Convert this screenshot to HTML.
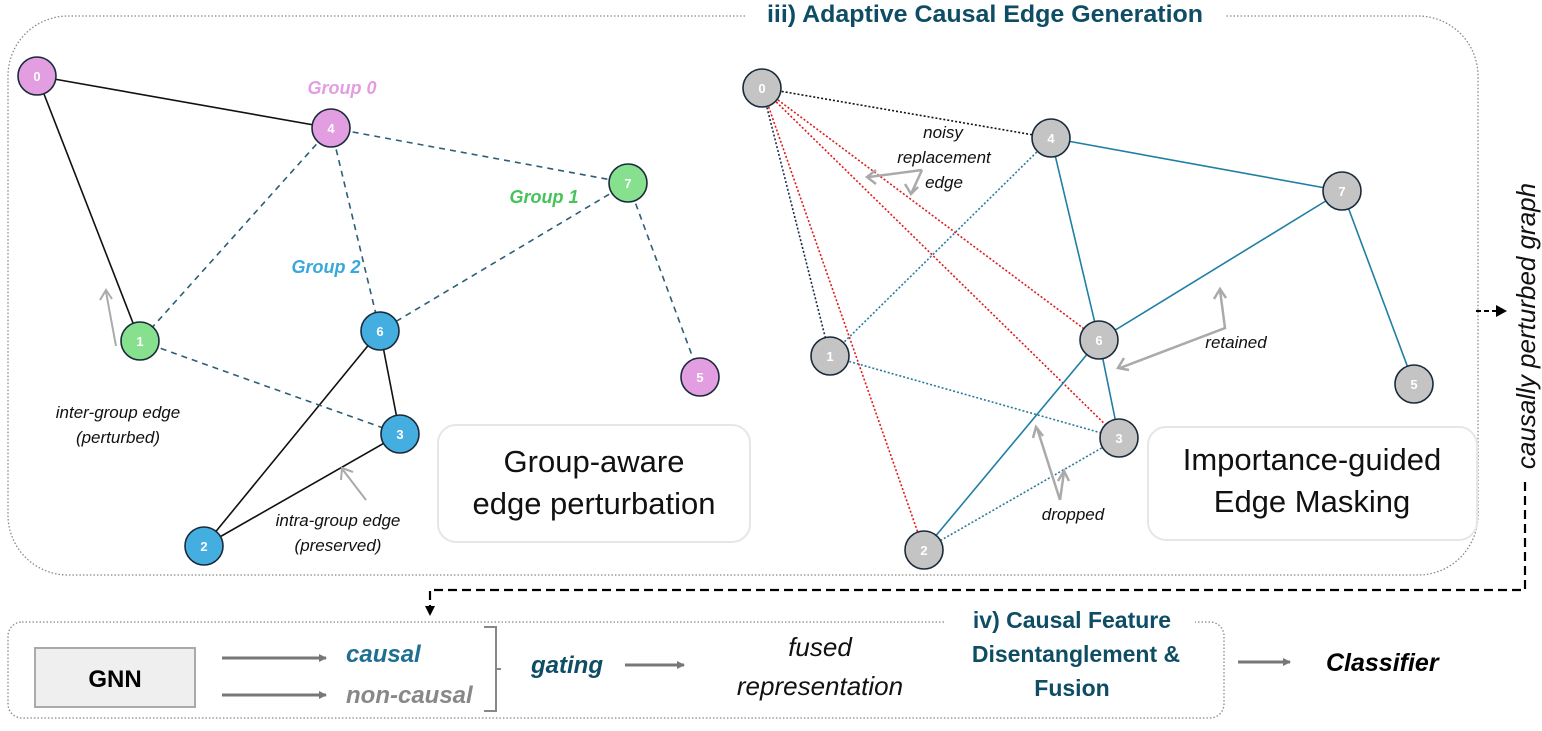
<!DOCTYPE html>
<html><head><meta charset="utf-8"><style>
body{margin:0;width:1542px;height:726px;background:#fff;overflow:hidden;font-family:"Liberation Sans",sans-serif}
</style></head><body>
<svg width="1542" height="726" viewBox="0 0 1542 726" xmlns="http://www.w3.org/2000/svg" font-family="Liberation Sans, sans-serif">
<defs>
<marker id="ag" markerWidth="8" markerHeight="8" refX="7" refY="4" orient="auto" markerUnits="userSpaceOnUse"><path d="M0,0 L8,4 L0,8 z" fill="#777"/></marker>
<marker id="ab" markerWidth="12" markerHeight="12" refX="10" refY="6" orient="auto" markerUnits="userSpaceOnUse"><path d="M0,0 L11,6 L0,12 z" fill="#000"/></marker>
</defs>
<!-- big box -->
<rect x="8" y="16" width="1470" height="559" rx="60" fill="none" stroke="#888" stroke-width="1.3" stroke-dasharray="1.5,2"/>
<rect x="745" y="0" width="480" height="28" fill="#fff"/>
<text x="985" y="22" text-anchor="middle" font-size="24" font-weight="bold" fill="#0e4d64" textLength="436" lengthAdjust="spacingAndGlyphs">iii) Adaptive Causal Edge Generation</text>

<!-- left edges -->
<g stroke="#111" stroke-width="1.6" fill="none">
<line x1="37" y1="76" x2="331" y2="128"/><line x1="37" y1="76" x2="140" y2="341"/>
<line x1="380" y1="331" x2="400" y2="434"/><line x1="380" y1="331" x2="204" y2="546"/><line x1="400" y1="434" x2="204" y2="546"/>
</g>
<g stroke="#2a5f78" stroke-width="1.6" stroke-dasharray="6,5" fill="none">
<line x1="331" y1="128" x2="628" y2="183"/><line x1="331" y1="128" x2="140" y2="341"/><line x1="331" y1="128" x2="380" y2="331"/>
<line x1="628" y1="183" x2="380" y2="331"/><line x1="628" y1="183" x2="700" y2="377"/><line x1="140" y1="341" x2="400" y2="434"/>
</g>
<g stroke="#1a2a3a" stroke-width="1.6">
<circle cx="37" cy="76" r="19" fill="#e29ee0"/><circle cx="331" cy="128" r="19" fill="#e29ee0"/><circle cx="700" cy="377" r="19" fill="#e29ee0"/>
<circle cx="628" cy="183" r="19" fill="#86e08e"/><circle cx="140" cy="341" r="19" fill="#86e08e"/>
<circle cx="380" cy="331" r="19" fill="#45aee0"/><circle cx="400" cy="434" r="19" fill="#45aee0"/><circle cx="204" cy="546" r="19" fill="#45aee0"/>
</g>
<g font-size="13" font-weight="bold" fill="#fff" text-anchor="middle">
<text x="37" y="81">0</text><text x="331" y="133">4</text><text x="700" y="382">5</text><text x="628" y="188">7</text><text x="140" y="346">1</text><text x="380" y="336">6</text><text x="400" y="439">3</text><text x="204" y="551">2</text>
</g>
<g font-size="18" font-weight="bold" font-style="italic">
<text x="342" y="94" text-anchor="middle" fill="#e29ee0">Group 0</text>
<text x="544" y="203" text-anchor="middle" fill="#45c45a">Group 1</text>
<text x="326" y="273" text-anchor="middle" fill="#3aa8dc">Group 2</text>
</g>
<g stroke="#aaa" stroke-width="2" fill="none">
<line x1="116" y1="346" x2="106" y2="292"/>
<line x1="366" y1="500" x2="343" y2="470"/>
<path d="M100,300 L106,290 L112,299"/>
<path d="M341,480 L342,468 L353,472"/>
</g>
<g font-size="17" font-style="italic" fill="#111" text-anchor="middle">
<text x="118" y="418">inter-group edge</text><text x="118" y="443">(perturbed)</text>
<text x="338" y="526">intra-group edge</text><text x="338" y="551">(preserved)</text>
</g>
<rect x="438" y="425" width="312" height="117" rx="18" fill="#fff" stroke="#e6e6e6" stroke-width="2"/>
<text x="594" y="472" text-anchor="middle" font-size="31" fill="#111">Group-aware</text>
<text x="594" y="514" text-anchor="middle" font-size="31" fill="#111">edge perturbation</text>

<!-- right edges -->
<g fill="none" stroke-width="1.6">
<line x1="762" y1="88" x2="1051" y2="138" stroke="#111" stroke-dasharray="2,2"/>
<line x1="762" y1="88" x2="830" y2="356" stroke="#1a2a4a" stroke-dasharray="2,2"/>
<g stroke="#e01a1a" stroke-dasharray="2,2"><line x1="762" y1="88" x2="924" y2="550"/><line x1="762" y1="88" x2="1119" y2="438"/><line x1="762" y1="88" x2="1099" y2="340"/></g>
<g stroke="#2a7a9a" stroke-dasharray="2,2"><line x1="1051" y1="138" x2="830" y2="356"/><line x1="830" y1="356" x2="1119" y2="438"/><line x1="1119" y1="438" x2="924" y2="550"/></g>
<g stroke="#1f7fa3"><line x1="1051" y1="138" x2="1099" y2="340"/><line x1="1051" y1="138" x2="1342" y2="191"/><line x1="1342" y1="191" x2="1099" y2="340"/><line x1="1342" y1="191" x2="1414" y2="384"/><line x1="1099" y1="340" x2="1119" y2="438"/><line x1="1099" y1="340" x2="924" y2="550"/></g>
</g>
<g stroke="#1a2a3a" stroke-width="1.6" fill="#c4c4c4">
<circle cx="762" cy="88" r="19"/><circle cx="1051" cy="138" r="19"/><circle cx="1342" cy="191" r="19"/><circle cx="830" cy="356" r="19"/><circle cx="1099" cy="340" r="19"/><circle cx="1414" cy="384" r="19"/><circle cx="1119" cy="438" r="19"/><circle cx="924" cy="550" r="19"/>
</g>
<g font-size="13" font-weight="bold" fill="#fff" text-anchor="middle">
<text x="762" y="93">0</text><text x="1051" y="143">4</text><text x="1342" y="196">7</text><text x="830" y="361">1</text><text x="1099" y="345">6</text><text x="1414" y="389">5</text><text x="1119" y="443">3</text><text x="924" y="555">2</text>
</g>
<g font-size="17" font-style="italic" fill="#111" text-anchor="middle">
<text x="943" y="138">noisy</text><text x="944" y="163">replacement</text><text x="944" y="188">edge</text>
<text x="1236" y="348">retained</text><text x="1073" y="520">dropped</text>
</g>
<g stroke="#aaa" stroke-width="2.5" fill="none">
<path d="M922,170 L869,177"/><path d="M922,170 L911,194"/>
<path d="M1220,290 L1225,328 L1120,368"/>
<path d="M1060,500 L1037,428"/><path d="M1060,500 L1064,472"/>
<path d="M876,170 L867,177 L876,184"/><path d="M905,184 L911,194 L918,187"/>
<path d="M1214,299 L1220,289 L1226,298"/><path d="M1124,358 L1118,368 L1129,370"/>
<path d="M1033,438 L1036,427 L1043,436"/><path d="M1058,481 L1064,471 L1069,481"/>
</g>
<rect x="1148" y="427" width="329" height="113" rx="18" fill="#fff" stroke="#e6e6e6" stroke-width="2"/>
<text x="1312" y="470" text-anchor="middle" font-size="31" fill="#111">Importance-guided</text>
<text x="1312" y="512" text-anchor="middle" font-size="31" fill="#111">Edge Masking</text>

<!-- causally perturbed graph -->
<text transform="translate(1535,326) rotate(-90)" text-anchor="middle" font-size="26" font-style="italic" fill="#111">causally perturbed graph</text>
<line x1="1476" y1="311" x2="1506" y2="311" stroke="#000" stroke-width="2" stroke-dasharray="5,3" marker-end="url(#ab)"/>
<path d="M1525,482 L1525,590 L430,590 L430,614" fill="none" stroke="#000" stroke-width="2.2" stroke-dasharray="9,5"/>
<path d="M425,606 L430,616 L435,606 z" fill="#000"/>

<!-- bottom -->
<rect x="8" y="622" width="1216" height="96" rx="14" fill="none" stroke="#888" stroke-width="1.3" stroke-dasharray="1.5,2"/>
<rect x="945" y="605" width="250" height="30" fill="#fff"/>
<g font-size="23" font-weight="bold" fill="#0e4d64" text-anchor="middle">
<text x="1072" y="628">iv) Causal Feature</text><text x="1076" y="662">Disentanglement &amp;</text><text x="1072" y="696">Fusion</text>
</g>
<rect x="35" y="648" width="160" height="59" fill="#efefef" stroke="#aaa" stroke-width="2"/>
<text x="115" y="687" text-anchor="middle" font-size="24" font-weight="bold" fill="#000">GNN</text>
<g stroke="#777" stroke-width="3"><line x1="222" y1="658" x2="326" y2="658" marker-end="url(#ag)"/><line x1="222" y1="695" x2="326" y2="695" marker-end="url(#ag)"/>
<line x1="625" y1="665" x2="684" y2="665" marker-end="url(#ag)"/><line x1="1238" y1="662" x2="1290" y2="662" marker-end="url(#ag)"/></g>
<text x="346" y="662" font-size="24" font-weight="bold" font-style="italic" fill="#1f6f92">causal</text>
<text x="346" y="703" font-size="24" font-weight="bold" font-style="italic" fill="#888">non-causal</text>
<path d="M484,627 L496,627 L496,711 L484,711 M496,669 L501,669" fill="none" stroke="#888" stroke-width="2"/>
<text x="531" y="673" font-size="24" font-weight="bold" font-style="italic" fill="#0e4d64">gating</text>
<text x="820" y="656" text-anchor="middle" font-size="26" font-style="italic" fill="#111">fused</text>
<text x="820" y="695" text-anchor="middle" font-size="26" font-style="italic" fill="#111">representation</text>
<text x="1326" y="671" font-size="25" font-weight="bold" font-style="italic" fill="#000">Classifier</text>
</svg>
</body></html>
